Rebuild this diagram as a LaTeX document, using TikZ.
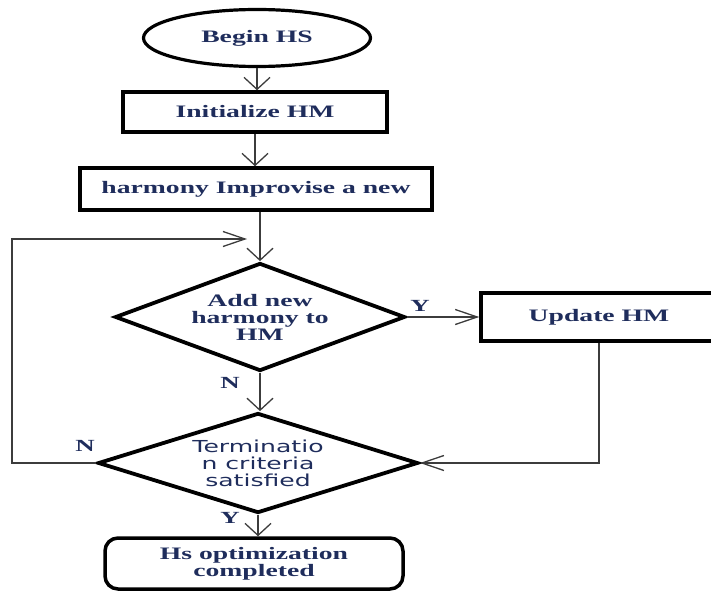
\documentclass[tikz,border=0pt]{standalone}
\usepackage{fontspec}
\setmainfont{Liberation Serif}[FakeStretch=1.58]
\newfontfamily\critfont{DejaVu Sans}[FakeStretch=1.52]
\usepackage{tikz}
\usetikzlibrary{positioning}
\usetikzlibrary{shapes.geometric}
\usetikzlibrary{arrows.meta}
\pgfdeclarelayer{nodelayer}
\pgfdeclarelayer{edgelayer}
\pgfsetlayers{nodelayer,edgelayer,main}
\definecolor{hstext}{RGB}{31,45,92}
\definecolor{hsline}{RGB}{60,60,60}
\tikzset{
  terminal/.style={ellipse, draw, line width=3.2pt, minimum width=227pt, minimum height=57pt, inner sep=0pt},
  process/.style={rectangle, draw, line width=3.5pt, inner sep=0pt},
  decision/.style={diamond, draw, line width=3.8pt, inner sep=0pt, align=center},
  finish/.style={rectangle, rounded corners=13pt, draw, line width=3.5pt, inner sep=0pt, align=center},
  hstxt/.style={text=hstext, font=\fontsize{17.5}{17}\selectfont\bfseries},
  answer/.style={text=hstext, font=\fontsize{17}{17}\selectfont\bfseries, inner sep=0pt},
  vflow/.style={draw=hsline, line width=1.3pt, -{Straight Barb[length=12pt,width=26pt]}},
  hflow/.style={draw=hsline, line width=1.3pt, -{Straight Barb[length=22pt,width=15pt]}},
}

\begin{document}
\begin{tikzpicture}[x=1pt, y=-1pt]
  \useasboundingbox (0,0) rectangle (711,591);
  \begin{pgfonlayer}{nodelayer}
    \node [terminal, hstxt] (0) at (257, 38) {Begin HS};
    \node [process, hstxt, minimum width=264pt, minimum height=40pt] (1) at (255, 112) {Initialize HM};
    \node [process, hstxt, minimum width=352pt, minimum height=42pt] (2) at (256, 189) {harmony Improvise a new};
    \node [decision, hstxt, minimum width=290pt, minimum height=108pt, aspect=2.7] (3) at (260, 317) {Add new\\harmony to\\HM};
    \node [process, hstxt, minimum width=236pt, minimum height=48pt] (4) at (599, 317) {Update HM};
    \node [decision, text=hstext, font=\critfont\fontsize{16.5}{17}\selectfont, minimum width=320pt, minimum height=100pt, aspect=3.2] (5) at (258, 463) {Terminatio\\n criteria\\satisfied};
    \node [finish, hstxt, minimum width=298pt, minimum height=51pt] (6) at (254, 563.5) {Hs optimization\\completed};
    \node [answer] (7) at (420, 306) {Y};
    \node [answer] (8) at (230, 383) {N};
    \node [answer] (9) at (85, 446) {N};
    \node [answer] (10) at (230, 518) {Y};
    \coordinate (11) at (12, 239);
    \coordinate (12) at (247, 239);
  \end{pgfonlayer}
  \begin{pgfonlayer}{edgelayer}
    \draw [vflow] (0.south) to (0.south |- 1.north);
    \draw [vflow] (1.south) to (1.south |- 2.north);
    \draw [vflow] (3.north |- 2.south) to (3.north);
    \draw [hflow] (3.east) to (4.west);
    \draw [vflow] (3.south) to (3.south |- 5.north);
    \draw [hflow] (4.south) |- (5.east);
    \draw [hflow] (5.west) -| (11) -- (12);
    \draw [vflow] (5.south) to (5.south |- 6.north);
  \end{pgfonlayer}
\end{tikzpicture}
\end{document}
